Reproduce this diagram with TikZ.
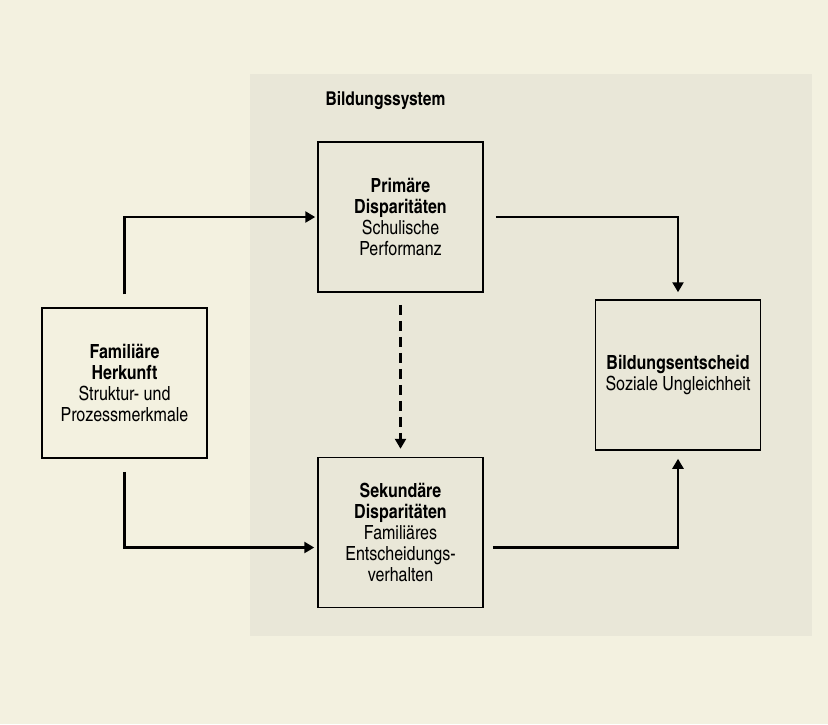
\documentclass[tikz,border=0pt]{standalone}
\usepackage{fontspec}
\setmainfont{texgyreheroscn}[Extension=.otf, UprightFont=*-regular, BoldFont=*-bold]
\usetikzlibrary{arrows.meta}

\definecolor{outerbg}{RGB}{243,241,224}
\definecolor{panelbg}{RGB}{233,231,216}

\tikzset{
  box/.style={draw, line width=1.5pt, minimum width=165pt, minimum height=150pt,
    inner sep=0pt, align=center, font=\fontsize{19.5}{21}\selectfont},
  arr/.style={line width=2.5pt, -{Triangle[length=10pt,width=11pt]}},
}

\begin{document}
\begin{tikzpicture}[x=1pt,y=-1pt]
      % Draw background
      \fill[outerbg] (0,0) rectangle (828,724);
      \useasboundingbox (0,0) rectangle (828,724);
      % Draw panel
      \fill[panelbg] (250,74) rectangle (812,636);
      \node (title) [anchor=west,font=\fontsize{19}{21}\selectfont\bfseries] at (322,101) {Bildungssystem};
      % Draw boxes
      \node (fam) [box] at (124.5,383) {\textbf{Familiäre}\\\textbf{Herkunft}\\Struktur- und\\Prozessmerkmale};
      \node (prim) [box] at (400.5,217) {\textbf{Primäre}\\\textbf{Disparitäten}\\Schulische\\Performanz};
      \node (sek) [box] at (400.5,532.5) {\textbf{Sekundäre}\\\textbf{Disparitäten}\\Familiäres\\Entscheidungs-\\verhalten};
      \node (bild) [box] at (678,375) {\textbf{Bildungsentscheid}\\Soziale Ungleichheit};
      % Draw arrows
      \draw [arr] ([yshift=13pt]fam.north) |- ([xshift=-2pt]prim.west);
      \draw [arr] ([yshift=-13pt]fam.south) |- ([xshift=-3pt,yshift=-15pt]sek.west);
      \draw [arr] ([xshift=12pt]prim.east) -| ([yshift=7pt]bild.north);
      \draw [arr] ([xshift=9pt,yshift=-15pt]sek.east) -| ([yshift=-8pt]bild.south);
      % Draw dashed arrow
      \draw [arr,line width=3pt,dash pattern=on 10pt off 6pt] ([yshift=-12pt]prim.south) -- ([yshift=8pt]sek.north);
    \end{tikzpicture}
\end{document}
